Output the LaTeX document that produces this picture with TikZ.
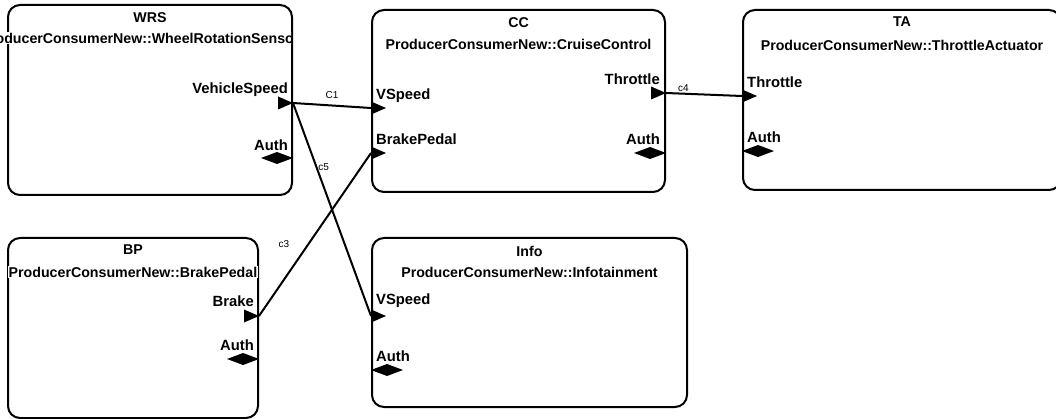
\documentclass[tikz,border=0pt]{standalone}
\usepackage{fontspec}
\setmainfont{Liberation Sans}
\usetikzlibrary{positioning, shapes.geometric}
\tikzset{%
	comp/.style = {name = #1, draw, line width = 2pt, rounded corners = 12pt, inner sep = 0pt},
	title/.style = {font = \fontsize{14.2}{16}\selectfont\bfseries, fill = white, inner sep = 1pt},
	plabel/.style = {font = \fontsize{14.8}{16}\selectfont\bfseries, inner sep = 0pt},
	clabel/.style = {font = \fontsize{10}{12}\selectfont, inner sep = 0pt},
	flow/.style = {name = #1, isosceles triangle, isosceles triangle stretches, fill, inner sep = 0pt, outer sep = 0pt, minimum width = 13pt, minimum height = 15pt},
	auth/.style = {name = #1, diamond, fill, inner sep = 0pt, outer sep = 0pt, minimum width = 32pt, minimum height = 12pt},
	every edge/.append style = {line width = 2pt}
}
\begin{document}
\begin{tikzpicture}[x = 1pt, y = -1pt]
	\clip (0,0) rectangle (1056,419);
	% components
	\node [comp = WRS, minimum width = 284pt, minimum height = 190pt] at (150,100) {};
	\node [comp = CC, minimum width = 293pt, minimum height = 182pt] at (518.5,101) {};
	\node [comp = TA, minimum width = 318pt, minimum height = 180pt] at (902,100) {};
	\node [comp = BP, minimum width = 250pt, minimum height = 180pt] at (133,328) {};
	\node [comp = Info, minimum width = 315pt, minimum height = 169pt] at (529.5,322.5) {};
	% titles
	\node [title] at ([yshift = -14pt] WRS.north) {WRS};
	\begin{scope}
		\clip (0,25) rectangle (291,55);
		\node [title] at ([xshift = -10pt, yshift = -34pt] WRS.north) {ProducerConsumerNew::WheelRotationSensor};
	\end{scope}
	\node [title] at ([yshift = -14pt] CC.north) {CC};
	\node [title] at ([yshift = -35pt] CC.north) {ProducerConsumerNew::CruiseControl};
	\node [title] at ([yshift = -13pt] TA.north) {TA};
	\node [title] at ([yshift = -36pt] TA.north) {ProducerConsumerNew::ThrottleActuator};
	\node [title] at ([yshift = -13pt] BP.north) {BP};
	\node [title] at ([yshift = -35pt] BP.north) {ProducerConsumerNew::BrakePedal};
	\node [title] at ([yshift = -14pt] Info.north) {Info};
	\node [title] at ([yshift = -35pt] Info.north) {ProducerConsumerNew::Infotainment};
	% ports
	\node [flow = WRSvs, anchor = apex] at (WRS.east |- 0,103) {};
	\node [auth = WRSau, anchor = east] at (WRS.east |- 0,158) {};
	\node [flow = CCvs, anchor = lower side] at (CC.west |- 0,108) {};
	\node [flow = CCbp, anchor = lower side] at (CC.west |- 0,153) {};
	\node [flow = CCth, anchor = apex] at (CC.east |- 0,93) {};
	\node [auth = CCau, anchor = east] at (CC.east |- 0,153) {};
	\node [flow = TAth, anchor = lower side] at (TA.west |- 0,96) {};
	\node [auth = TAau, anchor = west] at (TA.west |- 0,151) {};
	\node [flow = BPbr, anchor = apex] at (BP.east |- 0,316) {};
	\node [auth = BPau, anchor = east] at (BP.east |- 0,359) {};
	\node [flow = Infovs, anchor = lower side] at (Info.west |- 0,316) {};
	\node [auth = Infoau, anchor = west] at (Info.west |- 0,370) {};
	% port labels
	\node [plabel, anchor = east] at ([xshift = -5pt, yshift = 13pt] WRSvs.apex) {VehicleSpeed};
	\node [plabel, anchor = east] at ([xshift = -5pt, yshift = 13pt] WRSau.east) {Auth};
	\node [plabel, anchor = west] at ([xshift = 5pt, yshift = 12pt] CCvs.lower side) {VSpeed};
	\node [plabel, anchor = west] at ([xshift = 5pt, yshift = 14pt] CCbp.lower side) {BrakePedal};
	\node [plabel, anchor = east] at ([xshift = -6pt, yshift = 14pt] CCth.apex) {Throttle};
	\node [plabel, anchor = east] at ([xshift = -6pt, yshift = 14pt] CCau.east) {Auth};
	\node [plabel, anchor = west] at ([xshift = 5pt, yshift = 14pt] TAth.lower side) {Throttle};
	\node [plabel, anchor = west] at ([xshift = 5pt, yshift = 14pt] TAau.west) {Auth};
	\node [plabel, anchor = east] at ([xshift = -5pt, yshift = 15pt] BPbr.apex) {Brake};
	\node [plabel, anchor = east] at ([xshift = -5pt, yshift = 14pt] BPau.east) {Auth};
	\node [plabel, anchor = west] at ([xshift = 5pt, yshift = 15pt] Infovs.lower side) {VSpeed};
	\node [plabel, anchor = west] at ([xshift = 5pt, yshift = 14pt] Infoau.west) {Auth};
	% connections
	\path (WRSvs.apex) edge node [clabel, pos = 0.5, above = 6pt] {C1} (CCvs.lower side);
	\path (WRSvs.apex) edge node [clabel, pos = 0.3, right = 1pt] {c5} (Infovs.lower side);
	\path (BPbr.apex) edge node [clabel, pos = 0.44, left = 18pt] {c3} (CCbp.lower side);
	\path (CCth.apex) edge node [clabel, pos = 0.23, above = 1pt] {c4} (TAth.lower side);
\end{tikzpicture}
\end{document}
